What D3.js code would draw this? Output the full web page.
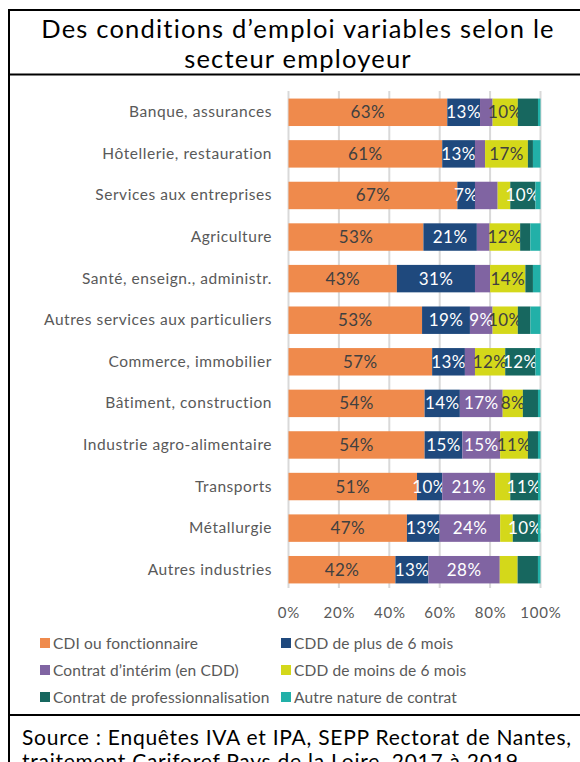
<!DOCTYPE html>
<html>
<head>
<meta charset="utf-8">
<script src="https://cdn.jsdelivr.net/npm/d3@7"></script>
<style>
  body { margin: 0; background: #fff; }
  text { font-family: Lato, "Open Sans", sans-serif; }
</style>
</head>
<body>
<div id="chart"></div>
<script>
// secteurs, du haut vers le bas
var sectors = ["Banque, assurances", "Hôtellerie, restauration", "Services aux entreprises",
  "Agriculture", "Santé, enseign., administr.", "Autres services aux particuliers",
  "Commerce, immobilier", "Bâtiment, construction", "Industrie agro-alimentaire",
  "Transports", "Métallurgie", "Autres industries"];

var contracts = ["CDI ou fonctionnaire", "CDD de plus de 6 mois", "Contrat d’intérim (en CDD)",
  "CDD de moins de 6 mois", "Contrat de professionnalisation", "Autre nature de contrat"];

var colors = ["#ef8a4c", "#1f497d", "#8064a2", "#d4d81a", "#17675f", "#22b0a8"];
var labelColors = ["#404040", "#fff", "#fff", "#404040", "#fff", "#fff"];

// une valeur par secteur pour chaque type de contrat (%)
var cdi      = [63, 61, 67, 53, 43, 53, 57, 54, 54, 51, 47, 42];
var cddPlus  = [13, 13, 7, 21, 31, 19, 13, 14, 15, 10, 13, 13];
var interim  = [5, 4, 9, 5, 6, 9, 4, 17, 15, 21, 24, 28];
var cddMoins = [10, 17, 5, 12, 14, 10, 12, 8, 11, 6, 5, 7];
var prof     = [8, 2, 10, 4, 3, 5, 12, 6, 4, 11, 10, 8];
var autre    = [1, 3, 2, 4, 3, 4, 2, 1, 1, 1, 1, 1];

// étiquettes affichées (1) ou non (0) sur chaque segment
var shown = [
  [1, 1, 0, 1, 0, 0], [1, 1, 0, 1, 0, 0], [1, 1, 0, 0, 1, 0], [1, 1, 0, 1, 0, 0],
  [1, 1, 0, 1, 0, 0], [1, 1, 1, 1, 0, 0], [1, 1, 0, 1, 1, 0], [1, 1, 1, 1, 0, 0],
  [1, 1, 1, 1, 0, 0], [1, 1, 1, 0, 1, 0], [1, 1, 1, 0, 1, 0], [1, 1, 1, 0, 0, 0]];

var ticks = [0, 0.2, 0.4, 0.6, 0.8, 1];

var series = [cdi, cddPlus, interim, cddMoins, prof, autre];
var rows = sectors.map(function(s, i) {
  var r = { sector: s };
  series.forEach(function(arr, j) { r[j] = arr[i]; });
  return r;
});

var W = 580, H = 762;
var svg = d3.select("#chart").append("svg")
  .attr("width", W).attr("height", H);

// cadre
svg.append("line").attr("x1", 9).attr("x2", 9).attr("y1", 9).attr("y2", H)
  .attr("stroke", "#000").attr("stroke-width", 2);
svg.append("line").attr("x1", 8).attr("x2", W).attr("y1", 10).attr("y2", 10)
  .attr("stroke", "#000").attr("stroke-width", 2);
svg.append("line").attr("x1", 8).attr("x2", W).attr("y1", 74.5).attr("y2", 74.5)
  .attr("stroke", "#000").attr("stroke-width", 2);
svg.append("line").attr("x1", 8).attr("x2", W).attr("y1", 715).attr("y2", 715)
  .attr("stroke", "#000").attr("stroke-width", 2);

// titre
svg.append("text").attr("x", 298).attr("y", 38).attr("text-anchor", "middle")
  .style("font-size", "25.5px").style("letter-spacing", "1.2px").attr("fill", "#000")
  .text("Des conditions d’emploi variables selon le");
svg.append("text").attr("x", 298).attr("y", 68).attr("text-anchor", "middle")
  .style("font-size", "25.5px").style("letter-spacing", "1.2px").attr("fill", "#000")
  .text("secteur employeur");

var x = d3.scaleLinear().domain([0, 1]).range([288.5, 540.5]);
var y = d3.scaleBand().domain(sectors).range([91.5, 590.5]).paddingInner(0.34).paddingOuter(0.17);

// grille
svg.append("g").selectAll("line").data(ticks).enter().append("line")
  .attr("x1", function(d) { return x(d); }).attr("x2", function(d) { return x(d); })
  .attr("y1", 91).attr("y2", 588)
  .attr("stroke", "#d9d9d9").attr("stroke-width", 2);

var stacked = d3.stack().keys(d3.range(contracts.length)).offset(d3.stackOffsetExpand)(rows);

var layer = svg.append("g").selectAll("g").data(stacked).enter().append("g")
  .attr("fill", function(d, i) { return colors[i]; });

layer.selectAll("rect").data(function(d) { return d; }).enter().append("rect")
  .attr("x", function(d) { return x(d[0]); })
  .attr("width", function(d) { return x(d[1]) - x(d[0]); })
  .attr("y", function(d) { return y(d.data.sector); })
  .attr("height", y.bandwidth());

layer.each(function(s, j) {
  d3.select(this).selectAll("text").data(s.filter(function(d, i) { return shown[i][j]; }))
    .enter().append("text")
    .attr("x", function(d) { return (x(d[0]) + x(d[1])) / 2; })
    .attr("y", function(d) { return y(d.data.sector) + y.bandwidth() / 2 + 6; })
    .attr("text-anchor", "middle")
    .attr("fill", labelColors[j])
    .style("font-size", "17px").style("letter-spacing", "0.4px")
    .text(function(d) { return d.data[j] + "%"; });
});

// axe des catégories
svg.append("g").attr("transform", "translate(288,0)")
  .call(d3.axisLeft(y).tickSize(0).tickPadding(16))
  .call(function(g) { g.select(".domain").remove(); })
  .selectAll("text")
  .style("font-size", "15.5px").style("letter-spacing", "0.55px")
  .style("font-family", "Lato, sans-serif").attr("fill", "#595959");

// axe des pourcentages
svg.append("g").attr("transform", "translate(0,604)")
  .call(d3.axisBottom(x).tickValues(ticks).tickSize(0).tickFormat(d3.format(".0%")))
  .call(function(g) { g.select(".domain").remove(); })
  .selectAll("text")
  .style("font-size", "15px").style("letter-spacing", "0.8px")
  .style("font-family", "Lato, sans-serif").attr("fill", "#595959");

// légende
var legend = svg.append("g").selectAll("g").data(contracts).enter().append("g")
  .attr("transform", function(d, i) {
    return "translate(" + (i % 2 ? 281 : 40) + "," + (638 + Math.floor(i / 2) * 27) + ")";
  });
legend.append("rect").attr("width", 10).attr("height", 10)
  .attr("fill", function(d, i) { return colors[i]; });
legend.append("text").attr("x", 13).attr("y", 10.5)
  .style("font-size", "15.5px").style("letter-spacing", "0.15px").attr("fill", "#595959")
  .text(function(d) { return d; });

// source
svg.append("text").attr("x", 22).attr("y", 745)
  .style("font-size", "21px").style("letter-spacing", "0.75px").attr("fill", "#000")
  .text("Source : Enquêtes IVA et IPA, SEPP Rectorat de Nantes,");
svg.append("text").attr("x", 22).attr("y", 769)
  .style("font-size", "21px").style("letter-spacing", "0.75px").attr("fill", "#000")
  .text("traitement Cariforef Pays de la Loire, 2017 à 2019");
</script>
</body>
</html>
